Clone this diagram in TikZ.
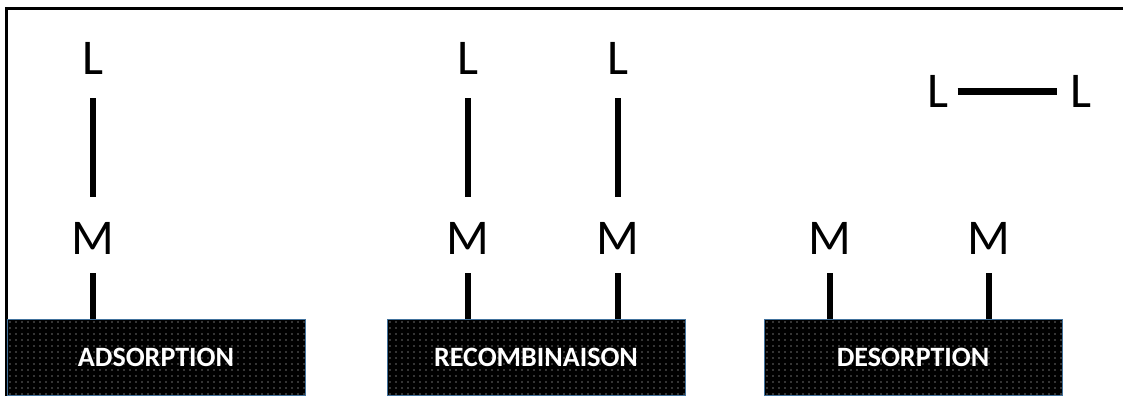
\documentclass[tikz,border=0pt]{standalone}
\usepackage{fontspec}
\setmainfont{Carlito}
\usetikzlibrary{calc}
\definecolor{boxedge}{HTML}{41719C}
\tikzset{
  letter/.style={font=\fontsize{50}{50}\selectfont, inner sep=0pt, text height=33pt, text depth=0pt, anchor=south},
  bar/.style={line width=6.5pt, black},
  frameline/.style={line width=3pt, black},
  stage/.style={draw=boxedge, line width=1pt, minimum height=76pt, minimum width=298pt, inner sep=0pt,
    text=white, font=\fontsize{28}{28}\selectfont\bfseries, fill=black,
    path picture={
      \foreach \i in {0,...,49} \foreach \j in {0,...,12}
        \fill[white!90!black]
          ($(path picture bounding box.north west)+(\i*6+3, \j*6+3)$) circle (0.65);
    }}
}
\begin{document}
\begin{tikzpicture}[x=1pt,y=-1pt]
\useasboundingbox (0,0) rectangle (1123,396);
% frame
\draw[frameline] (6,396) -- (6,8.5) -- (1123,8.5);
% boxes
\node[stage] (b1) at (156,357) {ADSORPTION};
\node[stage] (b2) at (536,357) {RECOMBINAISON};
\node[stage] (b3) at (913,357) {DESORPTION};
% adsorption
\node[letter] (L1) at (93,75) {L};
\node[letter] (M1) at (93,255) {M};
\draw[bar, shorten <=23pt, shorten >=25pt] (L1) -- (M1);
\draw[bar, shorten <=18pt] (M1.south) -- (M1.south |- b1.north);
% recombinaison
\node[letter] (L2) at (468,75) {L};
\node[letter] (M2) at (468,255) {M};
\node[letter] (L3) at (618,75) {L};
\node[letter] (M3) at (618,255) {M};
\draw[bar, shorten <=23pt, shorten >=25pt] (L2) -- (M2);
\draw[bar, shorten <=23pt, shorten >=25pt] (L3) -- (M3);
\draw[bar, shorten <=18pt] (M2.south) -- (M2.south |- b2.north);
\draw[bar, shorten <=18pt] (M3.south) -- (M3.south |- b2.north);
% desorption
\node[letter] (M4) at (830,255) {M};
\node[letter] (M5) at (989,255) {M};
\draw[bar, shorten <=18pt] (M4.south) -- (M4.south |- b3.north);
\draw[bar, shorten <=18pt] (M5.south) -- (M5.south |- b3.north);
\node[letter] (L4) at (938,108) {L};
\node[letter] (L5) at (1081,108) {L};
\draw[bar, shorten <=9pt, shorten >=13pt] (L4.east) -- (L5.west);
\end{tikzpicture}
\end{document}
